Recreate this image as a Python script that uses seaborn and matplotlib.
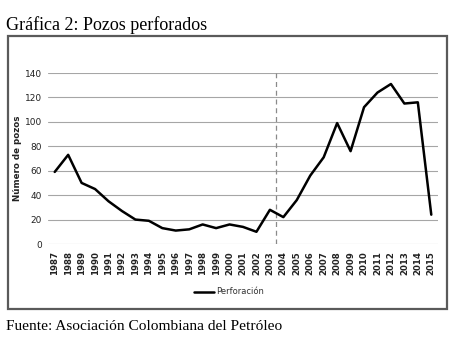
import matplotlib
matplotlib.use("Agg")
import matplotlib.pyplot as plt
import seaborn as sns
import pandas as pd
from matplotlib.patches import Rectangle

years = list(range(1987, 2016))
pozos = [59, 73, 50, 45, 35, 27, 20, 19, 13, 11, 12, 16, 13, 16, 14, 10,
         28, 22, 36, 56, 71, 99, 76, 112, 124, 131, 115, 116, 24]
series_name = "Perforación"
title = "Gráfica 2: Pozos perforados"
source = "Fuente: Asociación Colombiana del Petróleo"
ylabel = "Número de pozos"
yticks = [0, 20, 40, 60, 80, 100, 120, 140]
marker_year = 2003.42

df = pd.DataFrame({"Año": years, "Pozos": pozos})

sns.set_theme(style="white")
plt.rcParams["font.family"] = ["DejaVu Sans"]

W, H = 462, 344
fig = plt.figure(figsize=(W / 100, H / 100), dpi=100)
fig.patch.set_facecolor("white")

# outer frame
fig.patches.append(Rectangle((8 / W, 1 - 309 / H), (447 - 8) / W, (309 - 36) / H,
                             transform=fig.transFigure, fill=False,
                             edgecolor="#5a5a5a", linewidth=1.6, zorder=0))

ax = fig.add_axes([48 / W, 1 - 244 / H, (438 - 48) / W, (244 - 73) / H])
ax.set_facecolor("none")

sns.lineplot(data=df, x="Año", y="Pozos", ax=ax, color="black",
             linewidth=1.8, label=series_name)

ax.axvline(marker_year, color="#8a8a8a", linestyle=(0, (4, 3)), linewidth=0.9, zorder=1)

ax.set_xlim(years[0] - 0.5, years[-1] + 0.5)
ax.set_ylim(0, 140)
ax.set_yticks(yticks)
ax.set_xticks(years)
ax.set_xticklabels([str(y) for y in years], rotation=90, fontsize=6.2,
                   fontweight="bold", color="#222222")
ax.set_yticklabels([str(v) for v in yticks], fontsize=6.5, color="#222222")
ax.tick_params(axis="x", length=0, pad=5)
ax.tick_params(axis="y", length=0, pad=4.5)
ax.yaxis.grid(True, color="#a6a6a6", linewidth=0.8)
ax.xaxis.grid(False)
for s in ax.spines.values():
    s.set_visible(False)
ax.set_xlabel("")
ax.set_ylabel(ylabel, fontsize=6.3, fontweight="bold", color="#222222")
ax.yaxis.set_label_coords((22 - 48) / 390, 0.5)

leg = ax.legend(loc="center", bbox_to_anchor=(229 / W, 1 - 292 / H),
                bbox_transform=fig.transFigure, frameon=False,
                fontsize=6.0, handlelength=2.4, handletextpad=0.2)
for t in leg.get_texts():
    t.set_color("#333333")

fig.text(6 / W, 1 - 30 / H, title, fontsize=13, family="Liberation Serif",
         ha="left", va="baseline", color="black")
fig.text(6 / W, 1 - 330 / H, source, fontsize=11.1, family="Liberation Serif",
         ha="left", va="baseline", color="black")

fig.savefig("out.png", dpi=100, facecolor="white")
